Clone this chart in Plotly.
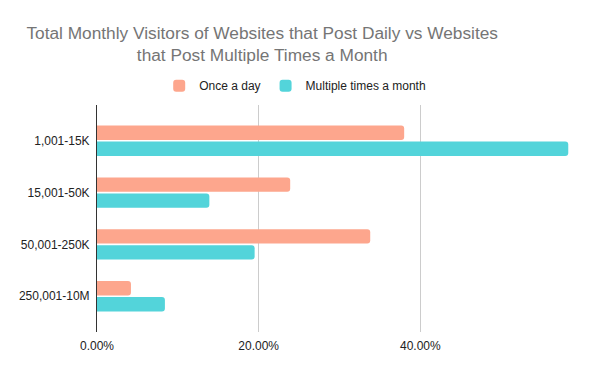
import plotly.graph_objects as go

categories = ["1,001-15K", "15,001-50K", "50,001-250K", "250,001-10M"]
once_a_day = [0.380, 0.239, 0.338, 0.042]
multiple_times_month = [0.583, 0.139, 0.195, 0.084]
tick_vals = [0, 0.2, 0.4, 0.6]
tick_text = ["0.00%", "20.00%", "40.00%", ""]

fig = go.Figure()
fig.add_trace(go.Bar(y=categories, x=once_a_day, orientation="h", name="Once a day",
                     marker=dict(color="#fda68d", line=dict(width=0))))
fig.add_trace(go.Bar(y=categories, x=multiple_times_month, orientation="h",
                     name="Multiple times a month",
                     marker=dict(color="#53d4da", line=dict(width=0))))

fig.update_layout(
    width=600, height=371,
    margin=dict(l=96.5, r=18.3, t=105, b=38.7, autoexpand=False),
    paper_bgcolor="white", plot_bgcolor="white",
    font=dict(family="Arial", size=12, color="#222222"),
    title=dict(text="Total Monthly Visitors of Websites that Post Daily vs Websites<br>that Post Multiple Times a Month",
               x=0.437, xanchor="center", xref="container", y=0.895, yanchor="top", yref="container",
               font=dict(family="Arial", size=17.3, color="#757575")),
    barmode="group", bargap=0.383, bargroupgap=0.1, barcornerradius=3,
    legend=dict(orientation="h", x=0.492, xanchor="center", xref="container",
                y=1.085, yanchor="middle",
                font=dict(size=12, color="#222222"), itemwidth=30),
    showlegend=True,
)
fig.update_xaxes(range=[0, 0.6], tickvals=tick_vals, ticktext=tick_text, automargin=False,
                 showgrid=True, gridcolor="#cccccc", gridwidth=1, zeroline=False,
                 showline=False, ticks="", ticklabelstandoff=5,
                 tickfont=dict(size=12, color="#222222"))
fig.update_yaxes(range=[3.69, -0.69], showgrid=False, zeroline=False, automargin=False,
                 showline=True, linecolor="#333333", linewidth=1, ticks="",
                 ticklabelstandoff=4, tickfont=dict(size=12, color="#222222"))

fig.write_html("out.html", config={"displayModeBar": False},
               post_script="document.body.style.margin='0';")
